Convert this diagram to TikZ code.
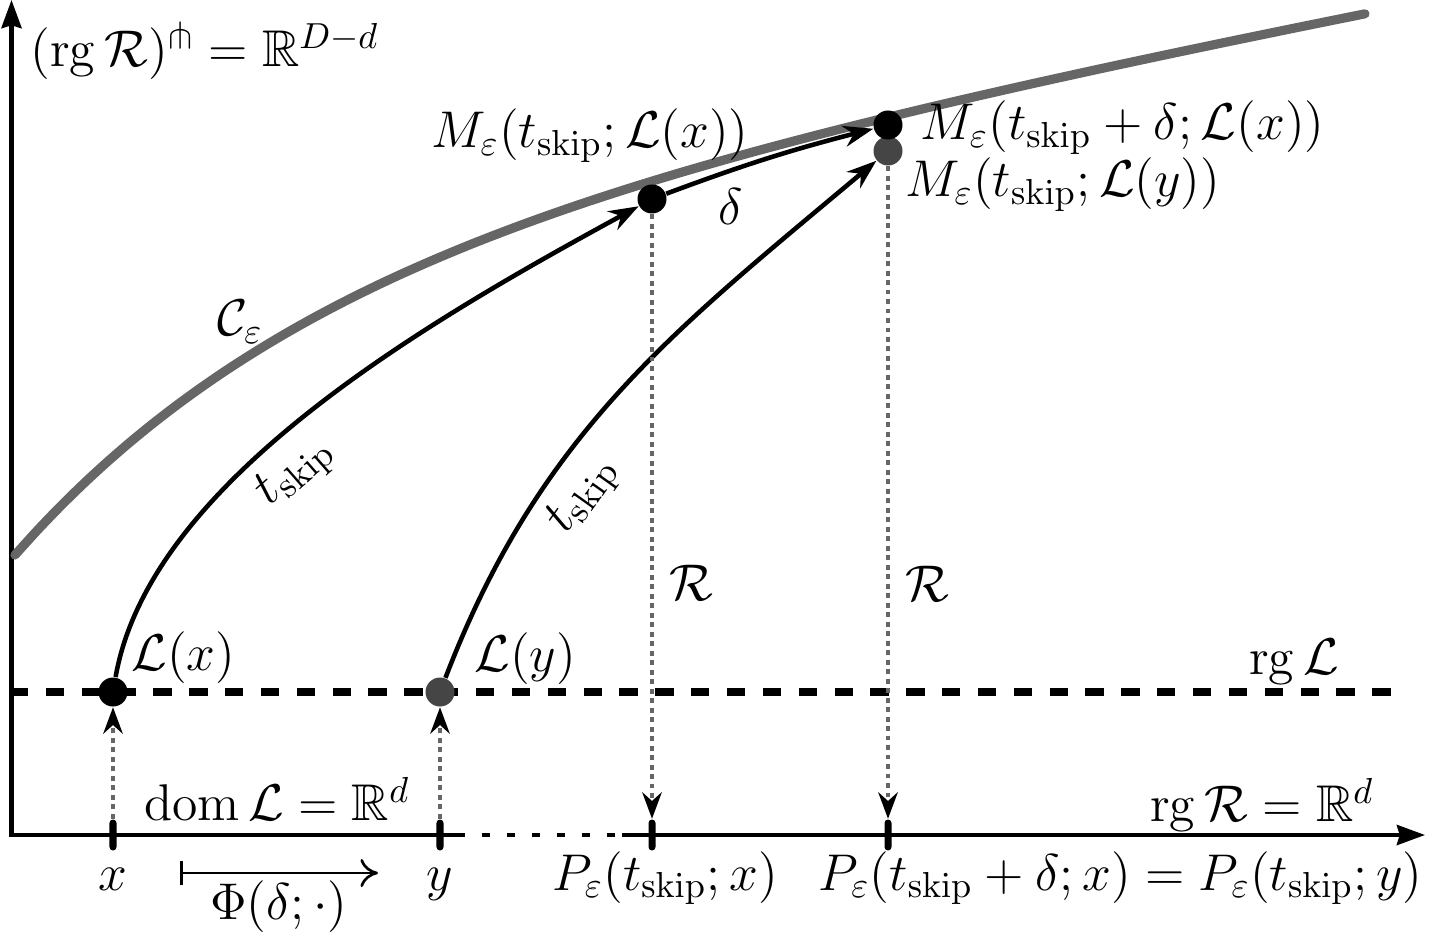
\RequirePackage{fix-cm}
\documentclass[tikz,border=0pt]{standalone}
\usepackage{amsmath,amssymb}
\usetikzlibrary{arrows.meta,positioning,backgrounds}
\newcommand{\tskip}{t_{\mathrm{skip}}}

\begin{document}
\begin{tikzpicture}[font=\fontsize{14.7}{18}\selectfont,
	axis/.style={line width=1.2pt,-{Stealth[length=8pt,width=5.7pt,inset=0.8pt]}},
	pt/.style={circle,fill=black,inner sep=0pt,minimum size=0.29cm},
	greypt/.style={pt,fill=black!73},
	tickmark/.style={fill=black,rounded corners=1pt,inner sep=0pt,minimum width=2pt,minimum height=0.31cm},
	flow/.style={line width=1.3pt,-{Stealth[length=8.5pt,width=6pt]}},
	proj/.style={draw=black!60,line width=1.4pt,dash pattern=on 1.4pt off 1.3pt,-{Stealth[length=7.5pt,width=5.5pt,color=black]}}]

	\useasboundingbox (0,0) rectangle (14.33,9.38);

	\node[pt] (Lx) at (1.13,2.46) {};
	\node[greypt] (Ly) at (4.40,2.46) {};
	\node[pt] (Mx) at (6.52,7.39) {};
	\node[greypt] (My) at (8.88,7.87) {};
	\node[pt] (Mxd) at (8.88,8.13) {};
	\foreach \name/\x in {tx/1.13, ty/4.40, tp/6.52, tq/8.88}
		\node[tickmark] (\name) at (\x,1.03) {};

	\begin{scope}[on background layer]
		\coordinate (O) at (0.115,1.03);
		\coordinate (yend) at (0.115,9.38);
		\coordinate (xend) at (14.25,1.03);
		\draw[axis] ([yshift=-0.6pt]O) -- (yend);
		\draw[line width=1.2pt] (O) -- (4.65,1.03);
		\draw[line width=1.2pt,dash pattern=on 0.08cm off 0.17cm] (4.817,1.03) -- (6.15,1.03);
		\draw[axis] (6.22,1.03) -- (xend);
		\draw[line width=2.5pt,dash pattern=on 5.2pt off 5pt] (0.10,2.46) -- (13.98,2.46);
		\draw[line width=2.6pt,black!60,line cap=round,domain=0.15:13.65,smooth,samples=60,variable=\x] plot ({\x},{3.83+0.19*(\x-0.15)+2.88*(1-exp(-0.33*(\x-0.15)))});
	\end{scope}

	\draw[flow] (Lx) .. controls (1.50,4.58) and (4.30,6.18) .. node[pos=0.43,sloped,below] {$\tskip$} (Mx);
	\draw[flow] (Ly) to[out=69,in=220] node[pos=0.33,sloped,below] {$\tskip$} (My);
	\draw[flow] (Mx) to[bend left=3] node[pos=0.3,below=1pt] {$\delta$} (Mxd);

	\draw[proj] (tx) -- (Lx);
	\draw[proj] (ty) -- (Ly);
	\draw[proj] (Mx) -- node[pos=0.61,right=1pt] {$\mathcal{R}$} (tp);
	\draw[proj] (My) -- node[pos=0.64,right=1pt] {$\mathcal{R}$} (tq);

	\node at (2.40,6.16) {$\mathcal{C}_\varepsilon$};
	\node[above right=-0.03cm and 0.07cm of Lx,inner sep=0pt] {$\mathcal{L}(x)$};
	\node[above right=-0.04cm and 0.23cm of Ly,inner sep=0pt] {$\mathcal{L}(y)$};
	\node at (5.90,8.02) {$M_\varepsilon(\tskip;\mathcal{L}(x))$};
	\node[right=0.17cm of Mxd,inner sep=0pt,yshift=-0.03cm] {$M_\varepsilon(\tskip+\delta;\mathcal{L}(x))$};
	\node[anchor=west,inner sep=0pt] at (9.05,7.53) {$M_\varepsilon(\tskip;\mathcal{L}(y))$};

	\node at (12.94,2.76) {$\operatorname{rg}\mathcal{L}$};
	\node at (12.62,1.33) {$\operatorname{rg}\mathcal{R}=\mathbb{R}^d$};
	\node at (2.77,1.39) {$\operatorname{dom}\mathcal{L}=\mathbb{R}^d$};
	\node[anchor=base west,inner sep=0pt] at (0.30,8.71) {$(\operatorname{rg}\mathcal{R})^{\pitchfork}=\mathbb{R}^{D-d}$};

	\node[anchor=base] at ([yshift=-0.55cm]tx) {$x$};
	\node[anchor=base] at ([yshift=-0.55cm]ty) {$y$};
	\node[anchor=base] at ([xshift=0.13cm,yshift=-0.55cm]tp) {$P_\varepsilon(\tskip;x)$};
	\node[anchor=base west,inner sep=0pt] at ([xshift=-0.70cm,yshift=-0.55cm]tq) {$P_\varepsilon(\tskip+\delta;x)=P_\varepsilon(\tskip;y)$};

	\coordinate (phiA) at (1.80,0.65);
	\coordinate (phiB) at (3.78,0.65);
	\draw[line width=0.75pt,{Bar[width=7pt]}-{Computer Modern Rightarrow[length=5pt,width=8pt]}] (phiA) -- node[below=-1.4pt] {$\Phi(\delta;\cdot)$} (phiB);
\end{tikzpicture}
\end{document}
